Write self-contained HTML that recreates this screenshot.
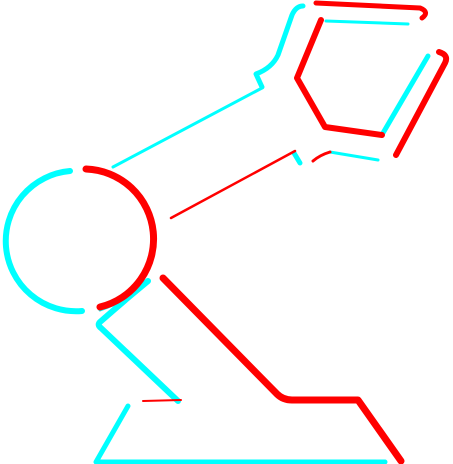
<!DOCTYPE html>
<html><head><meta charset="utf-8"><style>html,body{margin:0;padding:0;background:#fff;width:453px;height:464px;overflow:hidden}svg{display:block}</style></head>
<body>
<svg width="453" height="464" viewBox="0 0 453 464" fill="none" stroke-linecap="round" stroke-linejoin="round">
<g stroke="#00ffff">
<path stroke-width="6" d="M70 171 A 70 70 0 0 0 82 311"/>
<path stroke-width="3" d="M100 310 Q130 300 148 280"/>
<path stroke-width="3" d="M113 167 L262 88"/>
<path stroke-width="5" d="M262 87 L256 74 Q272 68 278 55 L292 15 Q296 6 303 6"/>
<path stroke-width="3" d="M326 21 L408 24"/>
<path stroke-width="5" d="M428 56 L383 133"/>
<path stroke-width="3" d="M330 152 L378 160"/>
<path stroke-width="5" d="M294 153 L300 163"/>
<path stroke-width="6" d="M148 281 Q125 300 100 322 Q97 325 101 328 L178 401"/>
<path stroke-width="5" d="M128 406 L96 462 L385 462"/>
</g>
<g stroke="#ff0000">
<path stroke-width="7" d="M86 169 A 70 70 0 0 1 100 307"/>
<path stroke-width="2.5" d="M171 218 L295 151"/>
<path stroke-width="3" d="M313 161 Q320 155 330 152"/>
<path stroke-width="5" d="M316 3 L420 8 Q430 12 422 18"/>
<path stroke-width="6" d="M321 20 L297 78 L325 127 L382 135"/>
<path stroke-width="6" d="M439 52 Q449 55 445 63 L396 155"/>
<path stroke-width="7" d="M163 278 L277 394 Q283 400 292 400 L358 400 L401 461"/>
<path stroke-width="2" d="M143 401 L181 400"/>
</g>
</svg>
</body></html>
